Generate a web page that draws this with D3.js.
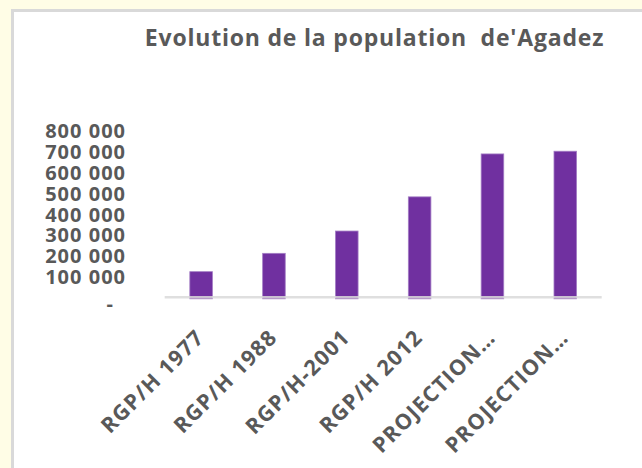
<!DOCTYPE html>
<html lang="fr">
<head>
    <meta charset="UTF-8">
    <title>Evolution de la population de'Agadez</title>
    <script src="https://d3js.org/d3.v7.min.js"></script>
    <style>
        body {
            margin: 0;
            background: #fffde6;
        }
        svg text {
            font-family: "Open Sans", "DejaVu Sans", sans-serif;
            font-weight: bold;
            fill: #595959;
        }
    </style>
</head>
<body>
    <svg id="chart" width="642" height="468"></svg>

    <script>
        // data
        const categories = ["RGP/H 1977", "RGP/H 1988", "RGP/H-2001", "RGP/H 2012", "PROJECTION\u2026", "PROJECTION\u2026 "];
        const population = [123000, 211000, 318000, 482000, 688000, 701000];
        const yTicks = [0, 100000, 200000, 300000, 400000, 500000, 600000, 700000, 800000];
        const title = "Evolution de la population  de'Agadez";

        const W = 642, H = 468;
        const plot = { left: 164.7, right: 601.7, top: 130.6, bottom: 297.3 };

        const svg = d3.select("#chart");

        // chart frame
        svg.append("rect")
            .attr("x", 0).attr("y", 0).attr("width", W).attr("height", H)
            .attr("fill", "#fffde6");
        svg.append("rect")
            .attr("x", 12.5).attr("y", 10.5)
            .attr("width", W + 20).attr("height", H + 20)
            .attr("fill", "#ffffff")
            .attr("stroke", "#d9d9d9")
            .attr("stroke-width", 3);

        svg.append("text")
            .attr("x", 374.5)
            .attr("y", 46)
            .attr("text-anchor", "middle")
            .style("font-size", "23px")
            .style("letter-spacing", "0.8px")
            .style("white-space", "pre")
            .text(title);

        const data = categories.map((c, i) => ({ cat: c, value: population[i] }));

        const x = d3.scaleBand()
            .domain(categories)
            .range([plot.left, plot.right])
            .paddingInner(0.69)
            .paddingOuter(0.345);

        const y = d3.scaleLinear()
            .domain([0, 800000])
            .range([plot.bottom, plot.top]);

        const fmt = v => v === 0 ? "-" : d3.format(",")(v).replace(/,/g, " ");

        // y axis (labels only)
        const yAxis = svg.append("g")
            .attr("transform", "translate(126,0)")
            .call(d3.axisLeft(y).tickValues(yTicks).tickSize(0).tickPadding(0).tickFormat(fmt));
        yAxis.select(".domain").remove();
        yAxis.selectAll("text")
            .style("font-size", "20px")
            .style("letter-spacing", "1px")
            .attr("fill", "#595959")
            .attr("dx", d => d === 0 ? "-12px" : 0)
            .attr("dy", d => d === 0 ? "0.65em" : "0.36em");

        // bars
        svg.append("g")
            .selectAll("rect")
            .data(data)
            .join("rect")
            .attr("x", d => x(d.cat))
            .attr("y", d => y(d.value))
            .attr("width", x.bandwidth())
            .attr("height", d => y(0) - y(d.value) + 1.5)
            .attr("fill", "#7030a0")
            .attr("stroke", "#a37cc4")
            .attr("stroke-width", 0.8);

        // category axis line
        svg.append("line")
            .attr("x1", plot.left).attr("x2", plot.right)
            .attr("y1", y(0)).attr("y2", y(0))
            .attr("stroke", "#d9d9d9")
            .attr("stroke-opacity", 0.85)
            .attr("stroke-width", 2.5);

        // rotated category labels
        svg.append("g")
            .selectAll("text")
            .data(data)
            .join("text")
            .attr("transform", d => `translate(${x(d.cat) + x.bandwidth() / 2 - 1},${y(0) + 36}) rotate(-45)`)
            .attr("text-anchor", "end")
            .attr("dy", "0.36em")
            .style("font-size", "21.5px")
            .style("letter-spacing", "1.2px")
            .text(d => d.cat.trim());
    </script>
</body>
</html>
